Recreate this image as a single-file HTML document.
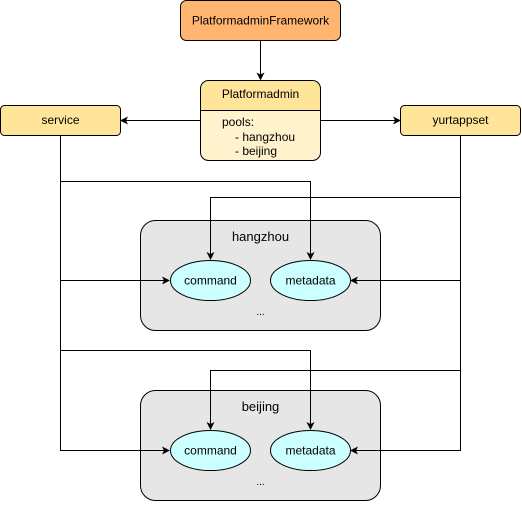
<!DOCTYPE html>
<html><head><style>body{margin:0;background:#fff}</style></head><body>
<svg width="522" height="502" xmlns="http://www.w3.org/2000/svg" font-family="Liberation Sans, Arial, sans-serif" font-size="12">
<defs><marker id="a" markerWidth="8" markerHeight="8" refX="7" refY="4" orient="auto" markerUnits="userSpaceOnUse"><path d="M0,0 L8,4 L0,8 L2,4 z" fill="#000"/></marker></defs>
<rect x="180.5" y="0.5" width="160" height="40" rx="6" fill="#FFB570" stroke="#000"/>
<text x="260.5" y="24.5" text-anchor="middle">PlatformadminFramework</text>
<line x1="260.5" y1="40.5" x2="260.5" y2="79.5" stroke="#000" marker-end="url(#a)"/>
<path d="M200.5,110.5 V88.5 a8,8 0 0 1 8,-8 H312.5 a8,8 0 0 1 8,8 V110.5" fill="#FFE599" stroke="#000"/>
<path d="M200.5,110.5 H320.5 V152.5 a8,8 0 0 1 -8,8 H208.5 a8,8 0 0 1 -8,-8 Z" fill="#FFF2CC" stroke="#000"/>
<text x="260.5" y="98" text-anchor="middle">Platformadmin</text>
<text x="222" y="126">pools:</text>
<text x="235" y="141">- hangzhou</text>
<text x="235" y="155">- beijing</text>
<rect x="0.5" y="105.5" width="120" height="30" rx="4" fill="#FFE599" stroke="#000"/>
<text x="60.5" y="124" text-anchor="middle">service</text>
<rect x="400.5" y="105.5" width="120" height="30" rx="4" fill="#FFE599" stroke="#000"/>
<text x="460.5" y="124" text-anchor="middle">yurtappset</text>
<line x1="200.5" y1="120.5" x2="121" y2="120.5" stroke="#000" marker-end="url(#a)"/>
<line x1="320.5" y1="120.5" x2="400" y2="120.5" stroke="#000" marker-end="url(#a)"/>
<rect x="140.5" y="220.5" width="240" height="110" rx="15" fill="#E6E6E6" stroke="#000"/>
<text x="260.5" y="241" text-anchor="middle" font-size="13">hangzhou</text>
<text x="260.5" y="315" text-anchor="middle" font-size="10">...</text>
<rect x="140.5" y="390.5" width="240" height="110" rx="15" fill="#E6E6E6" stroke="#000"/>
<text x="260.5" y="411" text-anchor="middle" font-size="13">beijing</text>
<text x="260.5" y="485" text-anchor="middle" font-size="10">...</text>
<g fill="none" stroke="#000">
<path d="M60.5,135.5 V450.5 H169" marker-end="url(#a)"/>
<path d="M460.5,135.5 V450.5 H351" marker-end="url(#a)"/>
<path d="M60.5,181.5 H310.5 V259" marker-end="url(#a)"/>
<path d="M460.5,197.5 H210.5 V259" marker-end="url(#a)"/>
<path d="M60.5,280.5 H169" marker-end="url(#a)"/>
<path d="M460.5,280.5 H351" marker-end="url(#a)"/>
<path d="M60.5,350.5 H310.5 V429" marker-end="url(#a)"/>
<path d="M460.5,370.5 H210.5 V429" marker-end="url(#a)"/>
</g>
<g fill="#CCFFFF" stroke="#000">
<ellipse cx="210.5" cy="280.5" rx="40" ry="20"/>
<ellipse cx="310.5" cy="280.5" rx="40" ry="20"/>
<ellipse cx="210.5" cy="450.5" rx="40" ry="20"/>
<ellipse cx="310.5" cy="450.5" rx="40" ry="20"/>
</g>
<g text-anchor="middle">
<text x="210.5" y="284.5">command</text>
<text x="310.5" y="284.5">metadata</text>
<text x="210.5" y="454.5">command</text>
<text x="310.5" y="454.5">metadata</text>
</g>
</svg>
</body></html>
